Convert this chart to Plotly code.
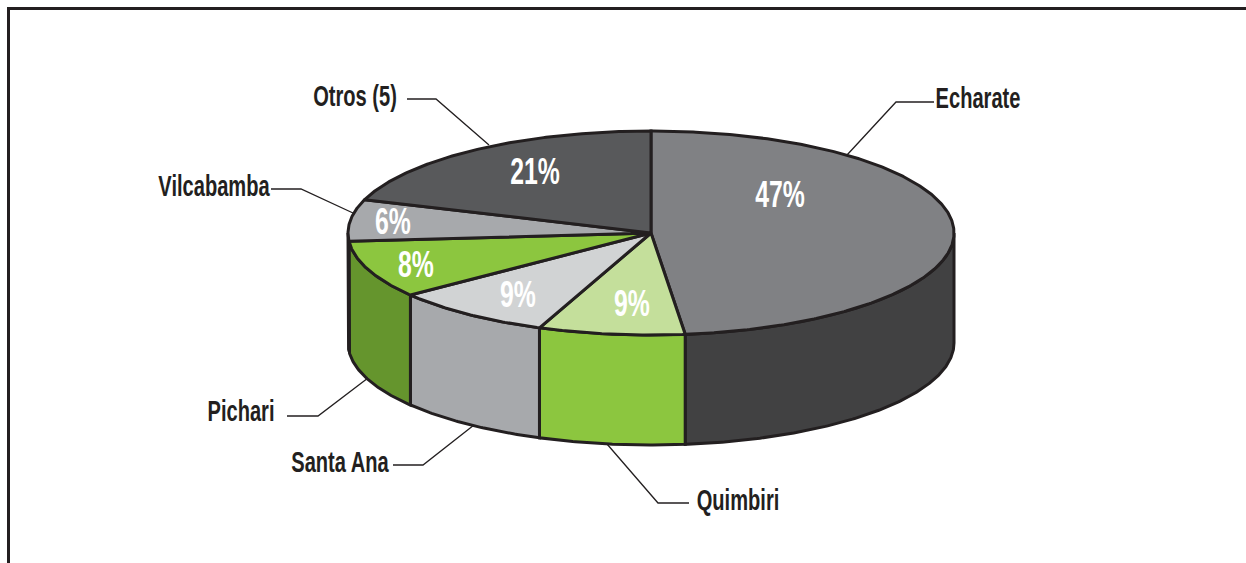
import numpy as np
import plotly.graph_objects as go

# Data
categories = ["Echarate", "Quimbiri", "Santa Ana", "Pichari", "Vilcabamba", "Otros (5)"]
percent_labels = ["47%", "9%", "9%", "8%", "6%", "21%"]
# Shares as drawn (angular size of each wedge, %), clockwise from 12 o'clock
drawn_shares = [48.2, 7.8, 8.6, 9.1, 6.6, 19.7]

# Styles
top_colors = ["#808184", "#c4df9b", "#d1d3d4", "#8cc63f", "#a7a9ac", "#58595b"]
side_colors = ["#414142", "#8cc63f", "#a7a9ac", "#65952d", "#a7a9ac", "#58595b"]
INK = "#231f20"
FONT = "Liberation Sans"

# Pie projection in pixels
CX, CY, RX, RY, DEPTH = 651.0, 233.0, 303.0, 102.0, 110.0

# Label placement
pct_x = [780, 632, 518, 416, 393, 535]
pct_y = [198, 307, 298, 268, 225, 175]
name_x = [978, 738, 340, 241, 214, 355]
name_y = [101, 503, 465, 414, 189, 99]
leader_x = [[847, 896, 934], [607, 658, 689], [474, 423, 393], [368, 318, 287], [353, 301, 271], [489, 436, 407]]
leader_y = [[155, 102, 102], [444, 503, 503], [425, 465, 465], [378, 416, 416], [213, 189, 189], [145, 99, 99]]


def arc(t0, t1, dy=0.0):
    t = np.radians(np.linspace(t0, t1, max(int(abs(t1 - t0) * 2), 2)))
    return CX + RX * np.sin(t), CY - RY * np.cos(t) + dy


fig = go.Figure()

for lx, ly in zip(leader_x, leader_y):
    fig.add_trace(go.Scatter(x=lx, y=ly, mode="lines", line=dict(color=INK, width=1.3)))

bounds = np.concatenate([[0], np.cumsum(drawn_shares) / np.sum(drawn_shares) * 360])

# Side walls (only the front half of the rim is visible)
for i in range(len(categories)):
    a, b = max(bounds[i], 90), min(bounds[i + 1], 270)
    if b <= a:
        continue
    tx, ty = arc(a, b)
    bx, by = arc(b, a, DEPTH)
    fig.add_trace(go.Scatter(
        x=np.r_[tx, bx, tx[0]], y=np.r_[ty, by, ty[0]], mode="lines", fill="toself",
        fillcolor=side_colors[i], line=dict(color=INK, width=3)))

# Top wedges
for i in range(len(categories)):
    tx, ty = arc(bounds[i], bounds[i + 1])
    fig.add_trace(go.Scatter(
        x=np.r_[CX, tx, CX], y=np.r_[CY, ty, CY], mode="lines", fill="toself",
        fillcolor=top_colors[i], line=dict(color=INK, width=3)))

fig.add_trace(go.Scatter(x=pct_x, y=pct_y, mode="text", text=percent_labels,
                         textposition="middle center",
                         textfont=dict(family=FONT, size=37, color="white", weight="bold")))
fig.add_trace(go.Scatter(x=name_x, y=name_y, mode="text", text=categories,
                         textposition="middle center",
                         textfont=dict(family=FONT, size=30, color=INK, weight="bold")))

fig.update_layout(
    width=1246, height=563, margin=dict(l=0, r=0, t=0, b=0),
    paper_bgcolor="white", plot_bgcolor="white", showlegend=False, hovermode=False,
    xaxis=dict(range=[0, 1246], visible=False, fixedrange=True),
    yaxis=dict(range=[563, 0], visible=False, fixedrange=True),
    shapes=[
        dict(type="line", xref="x", yref="y", x0=7, x1=1246, y0=8.5, y1=8.5, line=dict(color=INK, width=3)),
        dict(type="line", xref="x", yref="y", x0=8.5, x1=8.5, y0=7, y1=563, line=dict(color=INK, width=3)),
    ],
)

# Page margin off; squeeze the labels horizontally to the condensed look of the original
post = """
document.body.style.margin = '0';
document.documentElement.style.overflow = 'hidden';
document.querySelectorAll('.textpoint text').forEach(function (t) {
  var x = parseFloat(t.getAttribute('x'));
  t.setAttribute('transform', 'translate(' + x + ' 0) scale(0.67 1) translate(' + (-x) + ' 0)');
});
"""
fig.write_html("out.html", post_script=post, config=dict(displayModeBar=False))
